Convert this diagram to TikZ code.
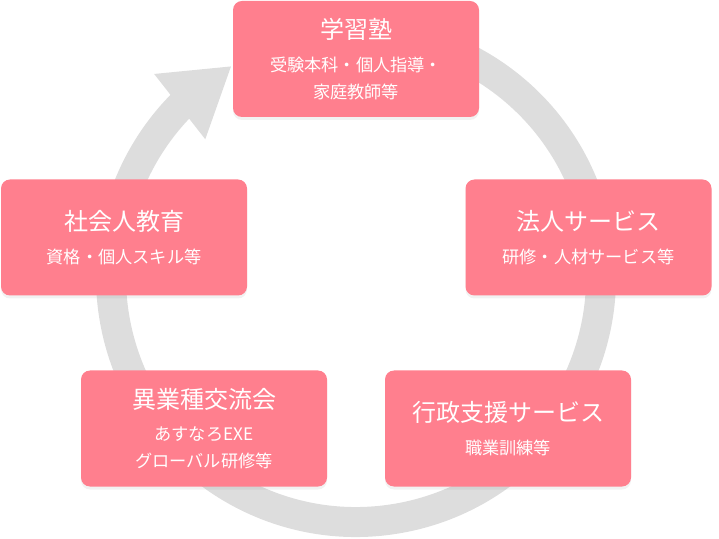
\documentclass[tikz,border=0pt]{standalone}
\usepackage{fontspec}
\newfontfamily\jp{Noto Sans CJK JP}
\usetikzlibrary{arrows.meta,bending,shadows}
\definecolor{ringgray}{RGB}{221,221,221}
\definecolor{rose}{RGB}{255,127,142}
\newcommand{\headfont}{\fontsize{24}{28}\selectfont}
\newcommand{\subfont}{\fontsize{17.2}{20}\selectfont}
\tikzset{
  ring/.style={draw=ringgray, line width=30pt},
  field/.style={fill=rose, rounded corners=9pt, minimum width=246pt,
    minimum height=116pt, inner sep=0pt, text=white, align=center,
    font=\jp, drop shadow={opacity=0.1, shadow xshift=0pt, shadow yshift=-3pt}}
}
\begin{document}
\begin{tikzpicture}[x=1pt,y=1pt]
    \useasboundingbox (0,0) rectangle (719,538);
    % the cycle behind the boxes
    \coordinate (hub) at (356,261);
    \draw[ring, -{Triangle[length=66pt,width=78pt,flex]}]
        ([shift={(100:245)}]hub) arc[start angle=100, end angle=-239.5, radius=245];
    % the five fields
    \node[field] (juku) at (356,479)
        {\headfont 学習塾\\[15pt]\subfont 受験本科・個人指導・\\[10pt]\subfont 家庭教師等};
    \node[field] (adult) at (124,300.5)
        {\headfont 社会人教育\\[15pt]\subfont 資格・個人スキル等};
    \node[field] (corp) at (588.5,300.5)
        {\headfont 法人サービス\\[15pt]\subfont 研修・人材サービス等};
    \node[field] (exchange) at (204,109.5)
        {\headfont 異業種交流会\\[15pt]\subfont あすなろEXE\\[10pt]\subfont グローバル研修等};
    \node[field] (gov) at (508,109.5)
        {\headfont 行政支援サービス\\[15pt]\subfont 職業訓練等};
\end{tikzpicture}
\end{document}
